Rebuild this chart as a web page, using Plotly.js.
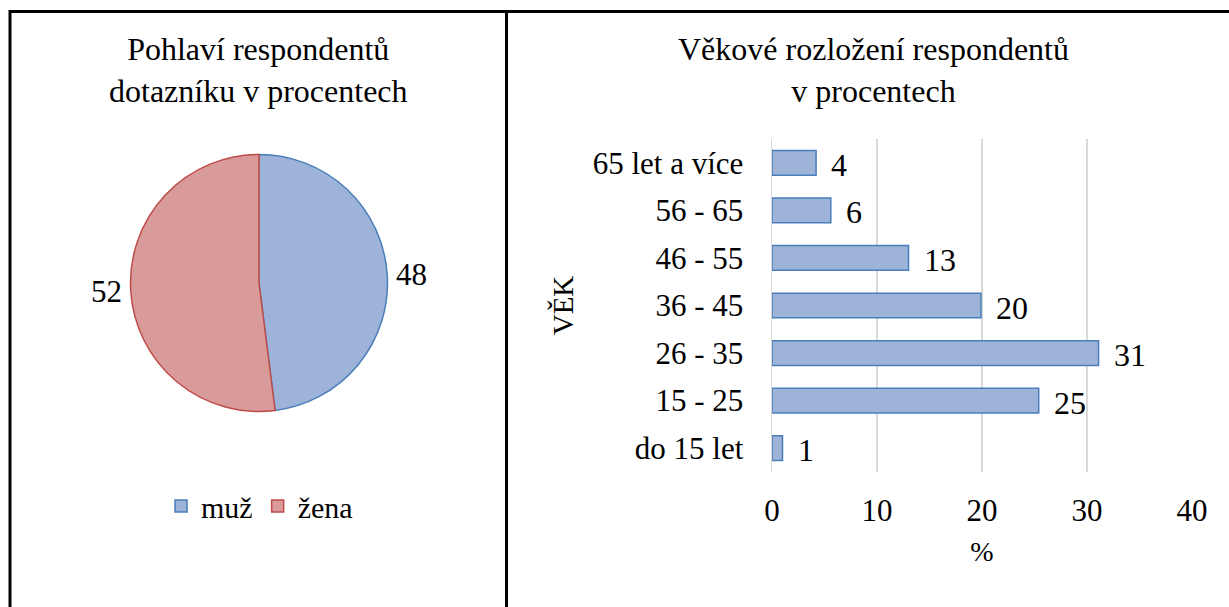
<!DOCTYPE html>
<html><head><meta charset="utf-8">
<script src="https://cdn.plot.ly/plotly-3.0.1.min.js"></script>
<style>html,body{margin:0;padding:0;background:#fff;}#chart{width:1229px;height:607px;}</style>
</head><body><div id="chart"></div>
<script>
// Pie data
const genderLabels = ["muž", "žena"];
const genderValues = [48, 52];
// Bar data
const ageCategories = ["do 15 let", "15 - 25", "26 - 35", "36 - 45", "46 - 55", "56 - 65", "65 let a více"];
const ageValues = [1.0, 25.4, 31.1, 19.9, 13.0, 5.6, 4.2];
const xTicks = [0, 10, 20, 30, 40];

const titleLeft = "Pohlaví respondentů<br>dotazníku v procentech";
const titleRight = "Věkové rozložení respondentů<br>v procentech";
const yTitle = "VĚK";
const xTitle = "%";

const W = 1229, H = 607;
const px = x => x / W;
const py = y => 1 - y / H;
const FONT = "Liberation Serif";

const pie = {
  type: "pie",
  labels: genderLabels,
  values: genderValues,
  sort: false,
  direction: "clockwise",
  rotation: 0,
  textinfo: "value",
  textposition: "outside",
  textfont: {family: FONT, size: 31, color: "#000"},
  marker: {colors: ["#9DB3D8", "#D99B9A"], line: {color: ["#4A7EBB", "#BE4B48"], width: 1.5}},
  domain: {x: [px(130), px(388)], y: [py(411.5), py(154.5)]},
  showlegend: true,
  hoverinfo: "label+value"
};

const bar = {
  type: "bar",
  orientation: "h",
  y: ageCategories,
  x: ageValues,
  marker: {color: "#9DB3D8", line: {color: "#4A7EBB", width: 1.5}},
  showlegend: false,
  xaxis: "x", yaxis: "y",
  hoverinfo: "x+y"
};

const annotations = [
  {text: titleLeft, x: px(258), y: py(70), xref: "paper", yref: "paper", xanchor: "center", yanchor: "middle", showarrow: false, font: {family: FONT, size: 32, color: "#000"}},
  {text: titleRight, x: px(873), y: py(70), xref: "paper", yref: "paper", xanchor: "center", yanchor: "middle", showarrow: false, font: {family: FONT, size: 32, color: "#000"}}
];
ageValues.forEach((v, i) => {
  annotations.push({text: String(Math.round(v)), x: v, y: ageCategories[i], xref: "x", yref: "y", xanchor: "left", yanchor: "middle", xshift: 13, yshift: -2, showarrow: false, font: {family: FONT, size: 32, color: "#000"}});
});

const shapes = [
  {type: "line", xref: "paper", yref: "paper", x0: px(10), x1: px(1240), y0: py(11.5), y1: py(11.5), line: {color: "#000", width: 3}},
  {type: "line", xref: "paper", yref: "paper", x0: px(10), x1: px(10), y0: py(10), y1: py(620), line: {color: "#000", width: 3}},
  {type: "line", xref: "paper", yref: "paper", x0: px(506.5), x1: px(506.5), y0: py(10), y1: py(620), line: {color: "#000", width: 3}}
];

const layout = {
  width: W, height: H,
  margin: {l: 0, r: 0, t: 0, b: 0, pad: 0},
  paper_bgcolor: "#fff", plot_bgcolor: "rgba(0,0,0,0)",
  font: {family: FONT, color: "#000"},
  showlegend: true,
  legend: {orientation: "h", x: px(161), y: py(506), xanchor: "left", yanchor: "middle", font: {family: FONT, size: 30, color: "#000"}, itemwidth: 30, bgcolor: "rgba(0,0,0,0)"},
  bargap: 0.48,
  xaxis: {
    domain: [px(772), px(1192)], range: [0, 40], tickvals: xTicks, ticktext: xTicks.map(String),
    showgrid: true, gridcolor: "#D9D9D9", gridwidth: 1.5, zeroline: false, showline: false, ticks: "",
    ticklabelstandoff: 17, tickfont: {family: FONT, size: 31, color: "#000"},
    title: {text: xTitle, font: {family: FONT, size: 28, color: "#000"}, standoff: 14},
    fixedrange: true, anchor: "y"
  },
  yaxis: {
    domain: [py(472), py(139)], type: "category", categoryorder: "array", categoryarray: ageCategories,
    showgrid: false, zeroline: false, showline: true, linecolor: "#D9D9D9", linewidth: 1.5, ticks: "",
    ticklabelstandoff: 21, tickfont: {family: FONT, size: 31, color: "#000"},
    title: {text: yTitle, font: {family: FONT, size: 29, color: "#000"}, standoff: 10},
    fixedrange: true, anchor: "x"
  },
  annotations: annotations,
  shapes: shapes
};

Plotly.newPlot("chart", [pie, bar], layout, {displayModeBar: false, staticPlot: true});
</script></body></html>
